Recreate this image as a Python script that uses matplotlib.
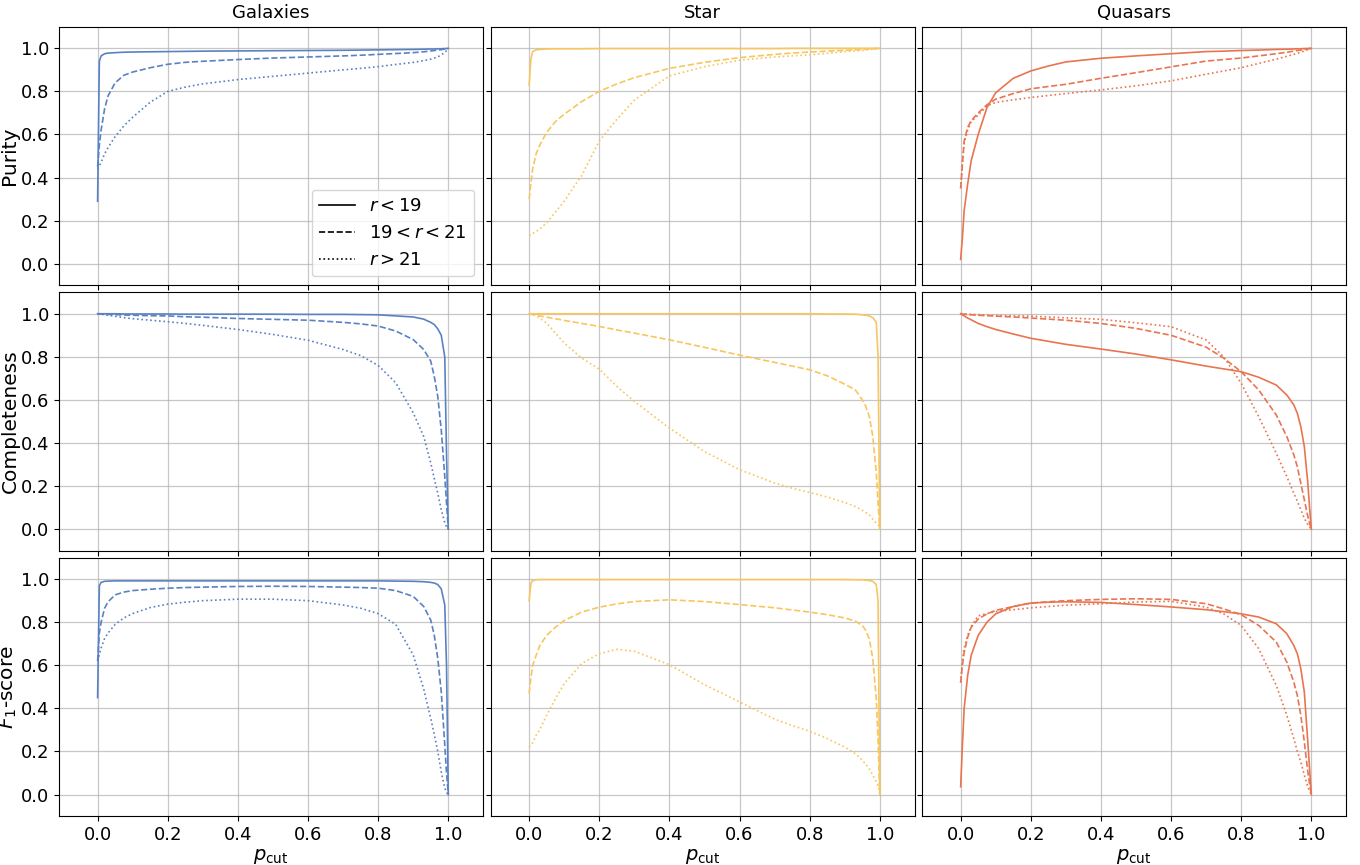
import numpy as np
import matplotlib
matplotlib.use("Agg")
import matplotlib.pyplot as plt

# p_cut grid the curves were read at
p_cut = [0, 0.005, 0.01, 0.02, 0.03, 0.05, 0.075, 0.1, 0.15, 0.2, 0.25, 0.3, 0.4,
         0.5, 0.6, 0.7, 0.75, 0.8, 0.85, 0.9, 0.93, 0.95, 0.96, 0.97, 0.98, 0.99,
         0.995, 1.0]

classes = ["Galaxies", "Star", "Quasars"]
metrics = ["Purity", "Completeness", r"$F_1$-score"]
mag_bins = [r"$r < 19$", r"$19 < r < 21$", r"$r > 21$"]

# ---- Galaxies
gal_purity = [
    [0.29, 0.94, 0.965, 0.975, 0.978, 0.98, 0.982, 0.983, 0.984, 0.985, 0.986, 0.987, 0.988,
     0.989, 0.99, 0.991, 0.992, 0.993, 0.994, 0.995, 0.996, 0.997, 0.997, 0.998, 0.998, 0.999, 0.999, 1.0],
    [0.45, 0.55, 0.62, 0.72, 0.78, 0.84, 0.875, 0.89, 0.91, 0.926, 0.935, 0.94, 0.948,
     0.955, 0.96, 0.965, 0.968, 0.972, 0.976, 0.98, 0.984, 0.988, 0.99, 0.992, 0.994, 0.997, 0.998, 1.0],
    [0.44, 0.455, 0.47, 0.51, 0.54, 0.59, 0.64, 0.68, 0.75, 0.80, 0.82, 0.835, 0.855,
     0.87, 0.885, 0.9, 0.907, 0.915, 0.925, 0.935, 0.943, 0.95, 0.955, 0.96, 0.97, 0.98, 0.99, 1.0],
]
gal_completeness = [
    [1.0, 1.0, 1.0, 1.0, 1.0, 1.0, 0.999, 0.999, 0.999, 0.999, 0.998, 0.998, 0.998,
     0.998, 0.997, 0.997, 0.996, 0.995, 0.99, 0.985, 0.975, 0.96, 0.95, 0.93, 0.9, 0.8, 0.35, 0.0],
    [1.0, 1.0, 0.999, 0.998, 0.997, 0.996, 0.994, 0.993, 0.991, 0.99, 0.986, 0.984, 0.978,
     0.974, 0.97, 0.96, 0.953, 0.943, 0.92, 0.88, 0.834, 0.78, 0.71, 0.617, 0.46, 0.245, 0.12, 0.0],
    [1.0, 0.999, 0.998, 0.995, 0.993, 0.988, 0.982, 0.977, 0.97, 0.963, 0.955, 0.946, 0.927,
     0.904, 0.877, 0.834, 0.806, 0.76, 0.68, 0.54, 0.43, 0.307, 0.235, 0.167, 0.09, 0.03, 0.01, 0.0],
]
gal_f1 = [
    [0.45, 0.97, 0.985, 0.99, 0.991, 0.992, 0.992, 0.992, 0.992, 0.992, 0.992, 0.992, 0.992,
     0.992, 0.992, 0.992, 0.992, 0.992, 0.991, 0.99, 0.988, 0.985, 0.982, 0.975, 0.955, 0.88, 0.6, 0.0],
    [0.62, 0.75, 0.8, 0.865, 0.895, 0.927, 0.94, 0.947, 0.953, 0.958, 0.961, 0.963, 0.966,
     0.967, 0.966, 0.963, 0.961, 0.958, 0.947, 0.92, 0.873, 0.81, 0.74, 0.633, 0.477, 0.23, 0.1, 0.0],
    [0.62, 0.65, 0.68, 0.725, 0.75, 0.79, 0.82, 0.84, 0.868, 0.884, 0.893, 0.9, 0.907,
     0.907, 0.9, 0.88, 0.865, 0.84, 0.79, 0.648, 0.49, 0.353, 0.28, 0.2, 0.105, 0.03, 0.01, 0.0],
]

# ---- Stars
star_purity = [
    [0.83, 0.95, 0.985, 0.993, 0.995, 0.997, 0.998, 0.998, 0.998, 0.999, 0.999, 0.999, 0.999,
     0.999, 0.999, 0.999, 1.0, 1.0, 1.0, 1.0, 1.0, 1.0, 1.0, 1.0, 1.0, 1.0, 1.0, 1.0],
    [0.30, 0.37, 0.44, 0.51, 0.55, 0.61, 0.66, 0.694, 0.753, 0.80, 0.835, 0.864, 0.907,
     0.935, 0.957, 0.972, 0.978, 0.983, 0.987, 0.991, 0.993, 0.995, 0.996, 0.997, 0.998, 0.999, 1.0, 1.0],
    [0.13, 0.135, 0.14, 0.15, 0.16, 0.19, 0.24, 0.29, 0.41, 0.57, 0.67, 0.76, 0.872,
     0.915, 0.945, 0.96, 0.965, 0.97, 0.977, 0.985, 0.988, 0.99, 0.992, 0.994, 0.996, 0.998, 0.999, 1.0],
]
star_completeness = [
    [1.0, 1.0, 1.0, 1.0, 1.0, 1.0, 1.0, 1.0, 1.0, 1.0, 1.0, 1.0, 1.0,
     1.0, 1.0, 1.0, 1.0, 1.0, 0.999, 0.999, 0.998, 0.995, 0.993, 0.99, 0.982, 0.96, 0.8, 0.0],
    [1.0, 0.998, 0.996, 0.993, 0.99, 0.984, 0.977, 0.969, 0.955, 0.941, 0.925, 0.91, 0.879,
     0.844, 0.808, 0.774, 0.757, 0.74, 0.712, 0.673, 0.647, 0.6, 0.57, 0.523, 0.43, 0.26, 0.12, 0.0],
    [1.0, 0.999, 0.998, 0.99, 0.98, 0.957, 0.91, 0.864, 0.794, 0.743, 0.663, 0.593, 0.469,
     0.36, 0.276, 0.214, 0.19, 0.17, 0.149, 0.124, 0.105, 0.087, 0.077, 0.067, 0.046, 0.028, 0.02, 0.01],
]
star_f1 = [
    [0.90, 0.98, 0.993, 0.997, 0.998, 0.998, 0.998, 0.998, 0.998, 0.998, 0.998, 0.998, 0.998,
     0.998, 0.998, 0.998, 0.998, 0.998, 0.998, 0.998, 0.997, 0.997, 0.995, 0.994, 0.99, 0.975, 0.9, 0.0],
    [0.47, 0.54, 0.6, 0.646, 0.69, 0.739, 0.777, 0.808, 0.847, 0.87, 0.885, 0.896, 0.904,
     0.896, 0.882, 0.867, 0.857, 0.847, 0.835, 0.82, 0.805, 0.785, 0.762, 0.723, 0.63, 0.445, 0.25, 0.0],
    [0.22, 0.23, 0.24, 0.275, 0.3, 0.368, 0.445, 0.515, 0.608, 0.654, 0.674, 0.665, 0.603,
     0.51, 0.43, 0.35, 0.32, 0.294, 0.26, 0.22, 0.19, 0.16, 0.14, 0.12, 0.09, 0.06, 0.04, 0.01],
]

# ---- Quasars
qso_purity = [
    [0.02, 0.12, 0.247, 0.37, 0.478, 0.60, 0.725, 0.794, 0.861, 0.895, 0.918, 0.937, 0.954,
     0.965, 0.975, 0.985, 0.987, 0.99, 0.992, 0.995, 0.996, 0.997, 0.998, 0.998, 0.999, 0.999, 1.0, 1.0],
    [0.35, 0.463, 0.57, 0.633, 0.664, 0.70, 0.738, 0.764, 0.79, 0.812, 0.823, 0.833, 0.861,
     0.887, 0.914, 0.941, 0.948, 0.955, 0.965, 0.975, 0.982, 0.987, 0.99, 0.992, 0.995, 0.998, 0.999, 1.0],
    [0.35, 0.47, 0.56, 0.62, 0.66, 0.69, 0.733, 0.749, 0.761, 0.772, 0.781, 0.79, 0.807,
     0.826, 0.849, 0.88, 0.895, 0.91, 0.93, 0.95, 0.963, 0.972, 0.977, 0.982, 0.988, 0.994, 0.997, 1.0],
]
qso_completeness = [
    [1.0, 0.995, 0.99, 0.98, 0.972, 0.955, 0.94, 0.927, 0.906, 0.886, 0.872, 0.858, 0.836,
     0.813, 0.786, 0.757, 0.744, 0.731, 0.705, 0.669, 0.623, 0.577, 0.538, 0.476, 0.383, 0.213, 0.1, 0.0],
    [1.0, 0.999, 0.998, 0.996, 0.995, 0.993, 0.991, 0.989, 0.985, 0.98, 0.975, 0.97, 0.955,
     0.932, 0.90, 0.845, 0.794, 0.731, 0.646, 0.53, 0.43, 0.345, 0.29, 0.213, 0.136, 0.059, 0.025, 0.0],
    [1.0, 1.0, 0.999, 0.998, 0.997, 0.996, 0.994, 0.992, 0.99, 0.989, 0.985, 0.981, 0.974,
     0.958, 0.94, 0.878, 0.80, 0.677, 0.522, 0.352, 0.244, 0.167, 0.13, 0.09, 0.05, 0.02, 0.01, 0.0],
]
qso_f1 = [
    [0.036, 0.23, 0.40, 0.553, 0.646, 0.739, 0.80, 0.839, 0.873, 0.889, 0.893, 0.895, 0.892,
     0.882, 0.871, 0.858, 0.849, 0.839, 0.824, 0.793, 0.747, 0.692, 0.654, 0.584, 0.476, 0.244, 0.12, 0.0],
    [0.52, 0.6, 0.66, 0.73, 0.776, 0.815, 0.839, 0.855, 0.873, 0.889, 0.895, 0.9, 0.906,
     0.909, 0.906, 0.886, 0.862, 0.835, 0.785, 0.708, 0.615, 0.522, 0.46, 0.368, 0.244, 0.105, 0.05, 0.0],
    [0.52, 0.62, 0.68, 0.74, 0.78, 0.83, 0.84, 0.85, 0.858, 0.867, 0.873, 0.879, 0.886,
     0.894, 0.897, 0.87, 0.839, 0.785, 0.677, 0.507, 0.368, 0.26, 0.2, 0.151, 0.09, 0.036, 0.015, 0.0],
]

data = [
    [gal_purity, star_purity, qso_purity],
    [gal_completeness, star_completeness, qso_completeness],
    [gal_f1, star_f1, qso_f1],
]
colors = ["#5a82c2", "#f7c65e", "#ea7450"]
styles = ["-", "--", ":"]

fig, axes = plt.subplots(3, 3, figsize=(13.6, 8.65), dpi=100, sharex=True, sharey=True)
fig.subplots_adjust(left=0.0434, right=0.990, top=0.969, bottom=0.0566,
                    wspace=0.017, hspace=0.027)

for i in range(3):
    for j in range(3):
        ax = axes[i, j]
        for k in range(3):
            ax.plot(p_cut, data[i][j][k], linestyle=styles[k], color=colors[j], lw=1.2)
        ax.grid(True, color="#b0b0b0", alpha=0.7, lw=0.9)
        ax.set_axisbelow(True)
        ax.tick_params(labelsize=13)
        if i == 0:
            ax.set_title(classes[j], fontsize=13)
        if j == 0:
            ax.set_ylabel(metrics[i], fontsize=14.5, labelpad=1)
        if i == 2:
            ax.set_xlabel(r"$p_\mathrm{cut}$", fontsize=14, labelpad=2)

ax = axes[0, 0]
ax.set_xlim(-0.11, 1.10)
ax.set_ylim(-0.1, 1.1)
ax.set_xticks(np.arange(0, 1.01, 0.2))
ax.set_yticks(np.arange(0, 1.01, 0.2))

handles = [plt.Line2D([], [], color="black", linestyle=s, lw=1.2) for s in styles]
ax.legend(handles, mag_bins, loc="lower right", fontsize=13, framealpha=0.8,
          handlelength=2.0)

plt.savefig("out.png", dpi=100)
